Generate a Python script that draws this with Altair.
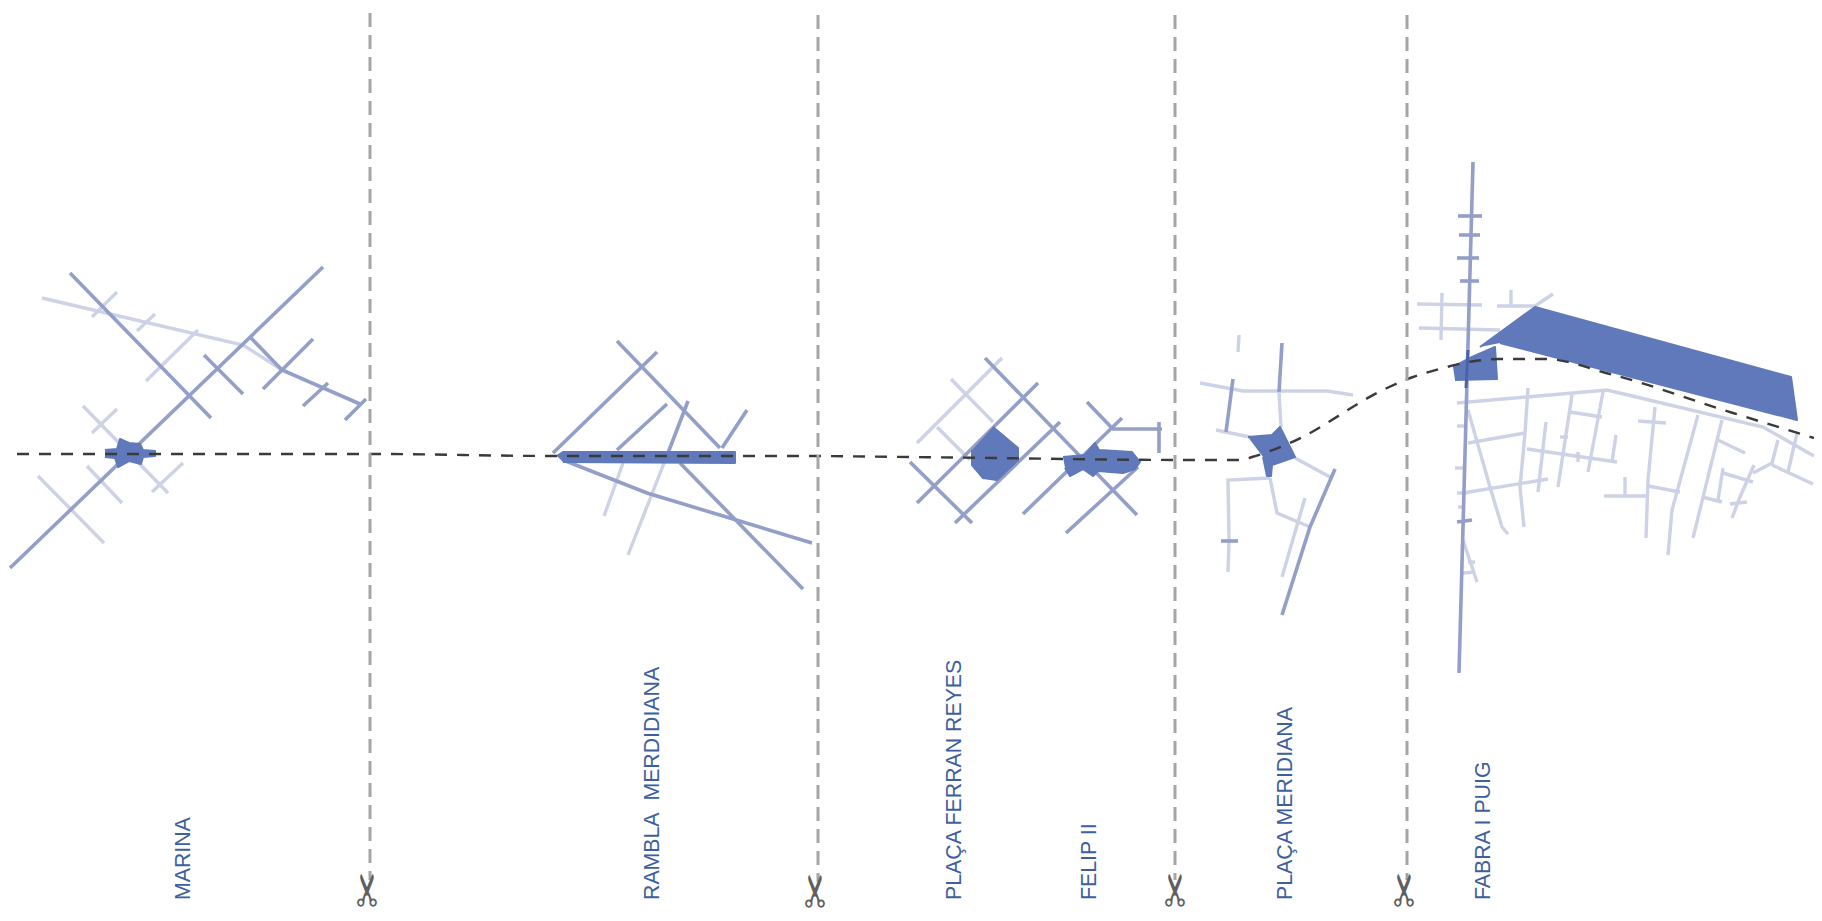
import altair as alt
import pandas as pd

# Coordinates in its own pixel units.
STRONG_LINES = [
    # Marina
    [(10,568),(323,267)], [(70,273),(211,418)], [(204,355),(243,394)],
    [(250,337),(282,370),(360,404)], [(263,389),(313,339)], [(303,406),(328,383)], [(345,420),(366,399)],
    # Rambla Meridiana
    [(617,341),(720,448)], [(680,463),(803,589)], [(657,352),(553,453)],
    [(563,460),(647,493),(733,519),(812,543)], [(747,410),(722,448)], [(688,401),(668,453)], [(667,404),(617,450)],
    # Plaça Ferran Reyes / Felip II
    [(985,358),(1137,515)], [(910,462),(972,523)], [(1038,383),(917,503)], [(1060,422),(955,523)],
    [(1087,402),(1112,428)], [(1122,418),(1023,514)], [(1138,467),(1066,533)], [(1112,429),(1162,429)], [(1159,422),(1159,453)],
    # Plaça Meridiana
    [(1282,343),(1279,392)], [(1233,379),(1226,432)], [(1335,469),(1310,527),(1282,615)], [(1221,541),(1238,541)],
    # Fabra i Puig
    [(1473,162),(1459,673)], [(1458,216),(1482,216)], [(1459,235),(1480,235)], [(1457,258),(1479,258)], [(1460,281),(1479,281)],
    [(1457,522),(1472,520)],
]
LIGHT_LINES = [
    # Marina
    [(42,298),(243,345),(282,370)], [(92,317),(117,292)], [(137,331),(155,314)], [(146,381),(198,330)],
    [(83,406),(168,493)], [(92,433),(117,409)], [(152,492),(183,463)], [(87,466),(122,503)], [(38,476),(104,543)],
    # Rambla Meridiana
    [(668,453),(628,555)], [(623,463),(604,516)],
    # Plaça Ferran Reyes
    [(1002,358),(917,443)], [(951,379),(993,422)], [(937,427),(970,460)],
    # Plaça Meridiana
    [(1200,383),(1243,391),(1327,391),(1353,395)], [(1239,335),(1238,352)], [(1279,392),(1281,427)],
    [(1216,430),(1250,437)], [(1295,458),(1330,477)], [(1270,478),(1228,480),(1229,540),(1228,572)],
    [(1270,478),(1277,513),(1310,527)], [(1305,498),(1282,577)],
    # Fabra i Puig, north
    [(1417,304),(1482,305)], [(1442,293),(1441,340)], [(1419,328),(1500,330)],
    [(1497,306),(1535,306),(1553,294)], [(1511,290),(1511,307)],
    # Fabra i Puig, street grid
    [(1457,403),(1607,390),(1763,427),(1814,456)], [(1528,388),(1525,433),(1520,487),(1524,527)],
    [(1468,443),(1525,433)], [(1468,410),(1490,487),(1502,527),(1508,534)], [(1463,493),(1548,479)],
    [(1572,395),(1558,487)], [(1570,412),(1602,417)], [(1603,392),(1588,472)], [(1527,449),(1617,462)],
    [(1546,422),(1538,492)], [(1560,437),(1568,437)], [(1578,452),(1578,462)], [(1616,435),(1612,462)],
    [(1655,407),(1648,480),(1646,538)], [(1638,421),(1666,423)], [(1648,486),(1680,492)], [(1604,496),(1648,496)],
    [(1625,477),(1625,496)], [(1698,415),(1672,510),(1668,555)], [(1722,420),(1693,538)], [(1718,440),(1745,453)],
    [(1723,468),(1718,500)], [(1723,473),(1753,482)], [(1702,497),(1722,502)], [(1754,465),(1740,497),(1732,518)],
    [(1730,504),(1747,502)], [(1778,440),(1772,463),(1753,473)], [(1772,465),(1813,484)], [(1797,433),(1788,472)],
    [(1457,426),(1467,426)], [(1455,468),(1465,468)], [(1457,493),(1467,493)], [(1458,507),(1465,507)],
    [(1463,540),(1477,582)], [(1463,573),(1475,572)], [(1468,562),(1475,562)],
]
FILL_SHAPES = [
    [(105,450),(117,449),(120,439),(129,443),(140,444),(143,450),(155,451),(155,456),(143,457),(141,464),(129,461),(118,467),(115,458),(105,457)],
    [(557,456),(563,452),(735,452),(735,463),(563,462)],
    [(993,427),(1018,448),(1018,460),(997,480),(983,478),(972,465),(972,450)],
    [(1063,457),(1085,455),(1095,443),(1099,450),(1132,452),(1140,462),(1135,469),(1123,473),(1098,471),(1093,476),(1083,469),(1070,476),(1065,468)],
    [(1248,437),(1272,435),(1280,427),(1295,457),(1272,465),(1271,476),(1267,476),(1263,457)],
    [(1480,347),(1535,307),(1791,377),(1797,420),(1500,343)],
    [(1453,367),(1472,357),(1495,347),(1497,379),(1455,380)],
]
DARK_STEM = [[(1468,350),(1466,388)]]
ROUTE = [(17,454),(370,454),(557,456),(800,456),(910,457),(1197,460),(1240,460),(1252,457),(1290,443),
         (1387,388),(1413,377),(1443,368),(1475,361),(1500,359),(1545,359),(1610,374),(1733,413),(1814,438)]
CUT_X = [370, 818, 1175, 1407]
CUT_TOP = [13, 15, 15, 15]
CUT_BOTTOM = [880, 882, 880, 880]
SCISSOR_X = [370, 818, 1178, 1407]
SCISSOR_Y = [890, 891, 890, 890]
LABEL_TEXT = ["MARINA", "RAMBLA\u00a0\u00a0MERDIDIANA", "PLAÇA FERRAN REYES", "FELIP II", "PLAÇA MERIDIANA", "FABRA I PUIG"]
LABEL_X = [184, 653, 955, 1090, 1286, 1484]
LABEL_Y = [900, 900, 900, 900, 900, 900]


def table(shapes):
    rows = []
    for k, s in enumerate(shapes):
        for i, (x, y) in enumerate(s):
            rows.append({"id": k, "i": i, "x": x, "y": y})
    return pd.DataFrame(rows)


X = alt.X("x:Q", axis=None, scale=alt.Scale(domain=[8, 1814], nice=False, zero=False))
Y = alt.Y("y:Q", axis=None, scale=alt.Scale(domain=[8, 913], nice=False, zero=False, reverse=True))


def lines(shapes, **mark):
    return alt.Chart(table(shapes)).mark_line(interpolate="linear", **mark).encode(
        x=X, y=Y, detail="id:N", order="i:Q")


cuts = pd.DataFrame({"x": CUT_X, "y": CUT_TOP, "y2": CUT_BOTTOM})
scissors = pd.DataFrame({"x": SCISSOR_X, "y": SCISSOR_Y, "t": ["\u2702"] * 4})
labels = pd.DataFrame({"x": LABEL_X, "y": LABEL_Y, "t": LABEL_TEXT})

chart = alt.layer(
    lines(LIGHT_LINES, stroke="#cdd2e6", strokeWidth=3.4),
    lines(STRONG_LINES, stroke="#939fc8", strokeWidth=3.6),
    lines(FILL_SHAPES, stroke="#6079ba", strokeWidth=2, fill="#6079ba", strokeJoin="round"),
    lines(DARK_STEM, stroke="#4a63a6", strokeWidth=3),
    alt.Chart(pd.DataFrame({"id": 0, "i": range(len(ROUTE)), "x": [p[0] for p in ROUTE], "y": [p[1] for p in ROUTE]}))
      .mark_line(stroke="#3a3a3a", strokeWidth=2.4, strokeDash=[12, 10], interpolate="monotone")
      .encode(x=X, y=Y, order="i:Q"),
    alt.Chart(cuts).mark_rule(stroke="#a6a6a6", strokeWidth=3, strokeDash=[14, 8]).encode(x=X, y=Y, y2="y2:Q"),
    alt.Chart(scissors).mark_text(font="DejaVu Sans", fontSize=44, angle=270, color="#5f5f5f", align="center", baseline="middle")
      .encode(x=X, y=Y, text="t:N"),
    alt.Chart(labels).mark_text(font="Liberation Sans", fontSize=21.3, angle=270, color="#3d5f9e", align="left", baseline="middle")
      .encode(x=X, y=Y, text="t:N"),
).properties(
    width=1806, height=905, background="#ffffff",
    padding={"left": 0, "top": 0, "right": 0, "bottom": 0},
    autosize=alt.AutoSizeParams(type="none"),
).configure_view(stroke=None)

chart.save("out.html", embed_options={"renderer": "svg", "actions": False})
